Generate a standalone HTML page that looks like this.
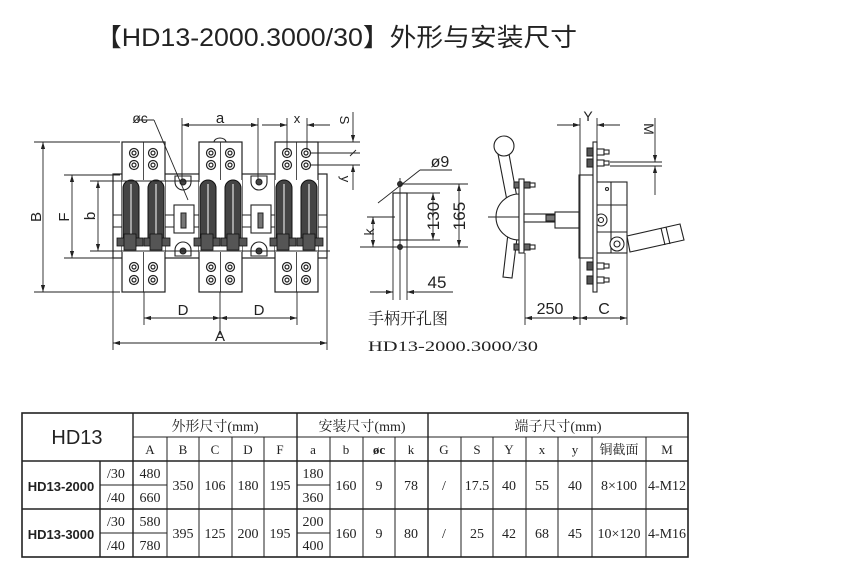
<!DOCTYPE html>
<html><head><meta charset="utf-8"><style>
html,body{margin:0;padding:0;background:#fff;width:860px;height:578px;overflow:hidden}
svg{display:block}
text{font-family:"Liberation Sans","Noto Sans CJK SC",sans-serif;fill:#222}
.s, .s text{font-family:"Liberation Serif","Noto Serif CJK SC",serif}
</style></head><body>
<svg width="860" height="578" viewBox="0 0 860 578" xmlns="http://www.w3.org/2000/svg">
<defs>
<marker id="ar" viewBox="0 0 10 6" refX="10" refY="3" markerWidth="8" markerHeight="5" orient="auto-start-reverse"><path d="M0,0L10,3L0,6z" fill="#222"/></marker>
<g id="pole">
  <rect x="0" y="0" width="43" height="150" fill="#fff" stroke="#222" stroke-width="1.2"/>
  <line x1="21.5" y1="0" x2="21.5" y2="150" stroke="#222" stroke-width="0.8"/>
  <g fill="none" stroke="#222" stroke-width="1.2">
    <circle cx="12" cy="11" r="4.5"/><circle cx="12" cy="11" r="2"/>
    <circle cx="12" cy="23" r="4.5"/><circle cx="12" cy="23" r="2"/>
    <circle cx="31" cy="11" r="4.5"/><circle cx="31" cy="11" r="2"/>
    <circle cx="31" cy="23" r="4.5"/><circle cx="31" cy="23" r="2"/>
    <circle cx="12" cy="125" r="4.5"/><circle cx="12" cy="125" r="2"/>
    <circle cx="12" cy="138" r="4.5"/><circle cx="12" cy="138" r="2"/>
    <circle cx="31" cy="125" r="4.5"/><circle cx="31" cy="125" r="2"/>
    <circle cx="31" cy="138" r="4.5"/><circle cx="31" cy="138" r="2"/>
  </g>
  <rect x="0" y="38" width="43" height="72" fill="#fff"/>
  <g fill="#444" stroke="#111" stroke-width="1">
    <rect x="1" y="38" width="16" height="68" rx="8"/>
    <rect x="26" y="38" width="16" height="68" rx="8"/>
  </g>
  <g stroke="#fff" stroke-width="1"><line x1="9" y1="42" x2="9" y2="102"/><line x1="34" y1="42" x2="34" y2="102"/></g>
  <g fill="#555" stroke="#111" stroke-width="0.8">
    <rect x="-5" y="96" width="26" height="8"/><rect x="22" y="96" width="26" height="8"/>
    <rect x="2" y="92" width="12" height="16"/><rect x="28" y="92" width="12" height="16"/>
  </g>
</g>
</defs>

<text x="95" y="46" font-size="25" textLength="482" lengthAdjust="spacingAndGlyphs">【HD13-2000.3000/30】外形与安装尺寸</text>

<rect x="113" y="174" width="214" height="84" fill="#fff" stroke="#222" stroke-width="1.2"/>
<g stroke="#222" stroke-width="1"><line x1="113" y1="215" x2="327" y2="215"/><line x1="113" y1="227" x2="327" y2="227"/></g>
<g fill="#fff" stroke="#222" stroke-width="1.1">
  <rect x="174" y="205" width="20" height="28"/><rect x="251" y="205" width="20" height="28"/>
</g>
<g fill="#777" stroke="#222"><rect x="181" y="213" width="5" height="15"/><rect x="258" y="213" width="5" height="15"/></g>
<g fill="#fff" stroke="#222" stroke-width="1.1">
  <path d="M175,176 h16 v6 a8,8 0 0 1 -16,0z"/><circle cx="183" cy="182" r="3" fill="#444"/>
  <path d="M251,176 h16 v6 a8,8 0 0 1 -16,0z"/><circle cx="259" cy="182" r="3" fill="#444"/>
  <path d="M175,256 h16 v-6 a8,8 0 0 0 -16,0z"/><circle cx="183" cy="251" r="3" fill="#444"/>
  <path d="M251,256 h16 v-6 a8,8 0 0 0 -16,0z"/><circle cx="259" cy="251" r="3" fill="#444"/>
</g>
<use href="#pole" x="122" y="142"/>
<use href="#pole" x="199" y="142"/>
<use href="#pole" x="275" y="142"/>
<path d="M214,142 a6,4 0 0 1 12,0" fill="none" stroke="#222"/>

<g stroke="#222" stroke-width="0.9" fill="none">
  <line x1="34" y1="142" x2="120" y2="142"/><line x1="34" y1="292" x2="120" y2="292"/>
  <line x1="43" y1="142" x2="43" y2="292" marker-start="url(#ar)" marker-end="url(#ar)"/>
  <line x1="64" y1="175" x2="120" y2="175"/><line x1="64" y1="258" x2="120" y2="258"/>
  <line x1="72" y1="175" x2="72" y2="258" marker-start="url(#ar)" marker-end="url(#ar)"/>
  <line x1="90" y1="181" x2="200" y2="181"/><line x1="90" y1="251" x2="330" y2="251"/>
  <line x1="98" y1="181" x2="98" y2="251" marker-start="url(#ar)" marker-end="url(#ar)"/>
  <line x1="113" y1="258" x2="113" y2="350"/><line x1="327" y1="258" x2="327" y2="350"/>
  <line x1="113" y1="343" x2="327" y2="343" marker-start="url(#ar)" marker-end="url(#ar)"/>
  <line x1="144" y1="292" x2="144" y2="325"/><line x1="220" y1="292" x2="220" y2="335"/><line x1="297" y1="292" x2="297" y2="325"/>
  <line x1="144" y1="318" x2="220" y2="318" marker-start="url(#ar)" marker-end="url(#ar)"/>
  <line x1="220" y1="318" x2="297" y2="318" marker-start="url(#ar)" marker-end="url(#ar)"/>
  <line x1="182" y1="118" x2="182" y2="180"/><line x1="258" y1="118" x2="258" y2="180"/>
  <line x1="182" y1="125" x2="258" y2="125" marker-start="url(#ar)" marker-end="url(#ar)"/>
  <line x1="287" y1="118" x2="287" y2="150"/><line x1="307" y1="118" x2="307" y2="150"/>
  <line x1="262" y1="125" x2="287" y2="125" marker-end="url(#ar)"/>
  <line x1="330" y1="125" x2="307" y2="125" marker-end="url(#ar)"/>
  <line x1="154" y1="120" x2="137" y2="120"/><line x1="154" y1="120" x2="188" y2="200"/>
  <line x1="310" y1="142" x2="360" y2="142"/><line x1="310" y1="153" x2="360" y2="153"/><line x1="310" y1="165" x2="360" y2="165"/>
  <line x1="353" y1="112" x2="353" y2="142" marker-end="url(#ar)"/>
  <line x1="353" y1="190" x2="353" y2="165" marker-end="url(#ar)"/>
  <line x1="350" y1="156" x2="356" y2="150"/>
</g>
<g font-size="15" text-anchor="middle">
  <text x="36" y="222" transform="rotate(-90 36 217)">B</text>
  <text x="64" y="222" transform="rotate(-90 64 217)">F</text>
  <text x="90" y="221" transform="rotate(-90 90 216)">b</text>
  <text x="183" y="315">D</text><text x="259" y="315">D</text>
  <text x="220" y="341">A</text>
  <text x="220" y="123">a</text>
  <text x="297" y="123" font-size="13">x</text>
  <text x="140" y="123" font-size="14">øc</text>
  <text x="344" y="124" font-size="13" transform="rotate(90 344 120)">S</text>
  <text x="345" y="183" font-size="13" transform="rotate(90 345 179)">y</text>
</g>

<g stroke="#222" stroke-width="0.9" fill="none">
  <rect x="393" y="193" width="14" height="47" stroke-width="1.2"/>
  <line x1="400" y1="178" x2="400" y2="300"/>
  <circle cx="400" cy="184" r="2.5" fill="#333"/><circle cx="400" cy="247" r="2.5" fill="#333"/>
  <line x1="402" y1="184" x2="468" y2="184"/><line x1="402" y1="247" x2="468" y2="247"/>
  <line x1="407" y1="193" x2="440" y2="193"/><line x1="407" y1="240" x2="440" y2="240"/>
  <line x1="433" y1="193" x2="433" y2="240" marker-start="url(#ar)" marker-end="url(#ar)"/>
  <line x1="459" y1="184" x2="459" y2="247" marker-start="url(#ar)" marker-end="url(#ar)"/>
  <line x1="367" y1="217" x2="395" y2="217"/><line x1="360" y1="247" x2="398" y2="247"/>
  <line x1="373" y1="217" x2="373" y2="247" marker-start="url(#ar)" marker-end="url(#ar)"/>
  <line x1="393" y1="240" x2="393" y2="300"/><line x1="407" y1="240" x2="407" y2="300"/>
  <line x1="370" y1="292" x2="393" y2="292" marker-end="url(#ar)"/>
  <line x1="453" y1="292" x2="407" y2="292" marker-end="url(#ar)"/>
  <line x1="378" y1="203" x2="420" y2="170" /><line x1="420" y1="170" x2="452" y2="170"/>
</g>
<g font-size="17" text-anchor="middle">
  <text x="440" y="167" font-size="16">ø9</text>
  <text x="433" y="222" transform="rotate(-90 433 216)">130</text>
  <text x="459" y="222" transform="rotate(-90 459 216)">165</text>
  <text x="369" y="237" font-size="14" transform="rotate(-90 369 232)">k</text>
  <text x="437" y="288">45</text>
</g>
<text x="368" y="324" font-size="16" class="s">手柄开孔图</text>
<text x="368" y="351" font-size="15" class="s" textLength="170" lengthAdjust="spacingAndGlyphs">HD13-2000.3000/30</text>

<g stroke="#222" stroke-width="1.1" fill="#fff">
  <path d="M498,154 L509,154 L520,214 L512,278 L503,277 L510,216z"/>
  <circle cx="504" cy="146" r="10"/>
  <path d="M519,194 A23,23 0 0 0 519,240z"/>
  <line x1="488" y1="217" x2="519" y2="217"/>
  <rect x="519" y="179" width="5" height="74"/>
  <rect x="524" y="182" width="6" height="6" fill="#666"/><rect x="530" y="183" width="5" height="4"/>
  <rect x="524" y="244" width="6" height="6" fill="#666"/><rect x="530" y="245" width="5" height="4"/>
  <rect x="514" y="182" width="5" height="6" fill="#666"/><rect x="514" y="244" width="5" height="6" fill="#666"/>
  <rect x="524" y="214" width="30" height="8"/>
  <rect x="546" y="215" width="9" height="6" fill="#777"/>
  <rect x="555" y="212" width="24" height="16"/>
  <rect x="579" y="175" width="14" height="83"/>
  <rect x="595" y="182" width="32" height="71"/>
  <line x1="611" y1="182" x2="611" y2="253"/><line x1="595" y1="205" x2="627" y2="205"/><line x1="595" y1="232" x2="627" y2="232"/>
  <circle cx="601" cy="220" r="6"/><circle cx="601" cy="220" r="2.5"/>
  <circle cx="617" cy="244" r="7"/><circle cx="617" cy="244" r="3"/>
  <path d="M627,236 L680,224 L684,240 L630,252z"/>
  <line x1="661" y1="228" x2="665" y2="245"/><line x1="666" y1="227" x2="670" y2="244"/>
  <rect x="593" y="142" width="4" height="150"/>
  <g fill="#555"><rect x="587" y="148" width="6" height="8"/><rect x="587" y="159" width="6" height="8"/><rect x="587" y="262" width="6" height="8"/><rect x="587" y="276" width="6" height="8"/></g>
  <rect x="597" y="149" width="7" height="6"/><rect x="604" y="150" width="5" height="4"/>
  <rect x="597" y="160" width="7" height="6"/><rect x="604" y="161" width="5" height="4"/>
  <rect x="597" y="263" width="7" height="6"/><rect x="604" y="264" width="5" height="4"/>
  <rect x="597" y="277" width="7" height="6"/><rect x="604" y="278" width="5" height="4"/>
  <circle cx="607" cy="189" r="1.5"/>
</g>
<g stroke="#222" stroke-width="0.9" fill="none">
  <line x1="525" y1="253" x2="525" y2="325"/><line x1="580" y1="118" x2="580" y2="325"/><line x1="627" y1="253" x2="627" y2="325"/>
  <line x1="597" y1="118" x2="597" y2="142"/>
  <line x1="525" y1="318" x2="580" y2="318" marker-start="url(#ar)" marker-end="url(#ar)"/>
  <line x1="580" y1="318" x2="627" y2="318" marker-start="url(#ar)" marker-end="url(#ar)"/>
  <line x1="557" y1="125" x2="580" y2="125" marker-end="url(#ar)"/>
  <line x1="620" y1="125" x2="597" y2="125" marker-end="url(#ar)"/>
  <line x1="610" y1="162" x2="662" y2="162"/><line x1="610" y1="166" x2="662" y2="166"/>
  <line x1="655" y1="118" x2="655" y2="162" marker-end="url(#ar)"/>
  <line x1="655" y1="195" x2="655" y2="166" marker-end="url(#ar)"/>
</g>
<g font-size="16" text-anchor="middle">
  <text x="550" y="314">250</text><text x="604" y="314">C</text>
  <text x="588" y="121" font-size="14">Y</text>
  <text x="648" y="133" font-size="14" transform="rotate(90 648 129)">M</text>
</g>

<g stroke="#222" fill="none">
  <rect x="22" y="413" width="666" height="144" stroke-width="1.6"/>
  <g stroke-width="1.4">
    <line x1="22" y1="461" x2="688" y2="461"/><line x1="22" y1="509" x2="688" y2="509"/>
    <line x1="133" y1="413" x2="133" y2="557"/><line x1="297" y1="413" x2="297" y2="557"/><line x1="428" y1="413" x2="428" y2="557"/>
    <line x1="100" y1="461" x2="100" y2="557"/>
  </g>
  <g stroke-width="1">
    <line x1="133" y1="437" x2="688" y2="437"/>
    <line x1="100" y1="485" x2="167" y2="485"/><line x1="100" y1="533" x2="167" y2="533"/>
    <line x1="297" y1="485" x2="330" y2="485"/><line x1="297" y1="533" x2="330" y2="533"/>
    <line x1="167" y1="437" x2="167" y2="557"/><line x1="199" y1="437" x2="199" y2="557"/><line x1="232" y1="437" x2="232" y2="557"/><line x1="264" y1="437" x2="264" y2="557"/>
    <line x1="330" y1="437" x2="330" y2="557"/><line x1="363" y1="437" x2="363" y2="557"/><line x1="395" y1="437" x2="395" y2="557"/>
    <line x1="461" y1="437" x2="461" y2="557"/><line x1="493" y1="437" x2="493" y2="557"/><line x1="526" y1="437" x2="526" y2="557"/><line x1="558" y1="437" x2="558" y2="557"/><line x1="592" y1="437" x2="592" y2="557"/><line x1="646" y1="437" x2="646" y2="557"/>
  </g>
</g>
<g text-anchor="middle" font-size="13">
  <text x="77" y="444" font-size="20">HD13</text>
  <text x="61" y="491" font-size="13" font-weight="bold">HD13-2000</text>
  <text x="61" y="539" font-size="13" font-weight="bold">HD13-3000</text>
  <g class="s">
  <text x="215" y="431" font-size="14">外形尺寸(mm)</text>
  <text x="362" y="431" font-size="14">安装尺寸(mm)</text>
  <text x="558" y="431" font-size="14">端子尺寸(mm)</text>
  <text x="150" y="454">A</text><text x="183" y="454">B</text><text x="215" y="454">C</text><text x="248" y="454">D</text><text x="280" y="454">F</text>
  <text x="313" y="454">a</text><text x="346" y="454">b</text><text x="379" y="454" font-weight="bold">øc</text><text x="411" y="454">k</text>
  <text x="444" y="454">G</text><text x="477" y="454">S</text><text x="509" y="454">Y</text><text x="542" y="454">x</text><text x="575" y="454">y</text><text x="619" y="454">铜截面</text><text x="667" y="454">M</text>
  </g>
  <g class="s" font-size="14">
  <text x="116" y="478">/30</text><text x="116" y="502">/40</text><text x="116" y="526">/30</text><text x="116" y="550">/40</text>
  <text x="150" y="478">480</text><text x="150" y="502">660</text><text x="150" y="526">580</text><text x="150" y="550">780</text>
  <text x="313" y="478">180</text><text x="313" y="502">360</text><text x="313" y="526">200</text><text x="313" y="550">400</text>
  <text x="183" y="490">350</text><text x="215" y="490">106</text><text x="248" y="490">180</text><text x="280" y="490">195</text>
  <text x="346" y="490">160</text><text x="379" y="490">9</text><text x="411" y="490">78</text>
  <text x="444" y="490">/</text><text x="477" y="490">17.5</text><text x="509" y="490">40</text><text x="542" y="490">55</text><text x="575" y="490">40</text><text x="619" y="490">8×100</text><text x="667" y="490">4-M12</text>
  <text x="183" y="538">395</text><text x="215" y="538">125</text><text x="248" y="538">200</text><text x="280" y="538">195</text>
  <text x="346" y="538">160</text><text x="379" y="538">9</text><text x="411" y="538">80</text>
  <text x="444" y="538">/</text><text x="477" y="538">25</text><text x="509" y="538">42</text><text x="542" y="538">68</text><text x="575" y="538">45</text><text x="619" y="538">10×120</text><text x="667" y="538">4-M16</text>
  </g>
</g>
</svg>
</body></html>
